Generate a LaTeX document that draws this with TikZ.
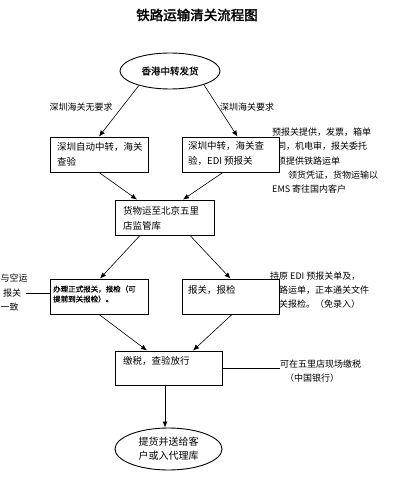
\documentclass[tikz,border=0pt]{standalone}
\usepackage{fontspec}
\setmainfont{Noto Sans CJK SC}
\newfontfamily\titlefont[FakeBold=2]{Noto Sans CJK SC}
\newfontfamily\boldcjk[FakeBold=0.8]{Noto Sans CJK SC}
\usetikzlibrary{arrows.meta,shapes.geometric}
\tikzset{
  box/.style={draw, fill=white, line width=0.9pt, inner sep=0pt},
  oval/.style={draw, fill=white, ellipse, line width=0.9pt, inner sep=0pt},
  txt/.style={inner sep=0pt, align=left, font=\fontsize{9.5}{15}\selectfont},
  note/.style={inner sep=0pt, align=left, font=\fontsize{9}{14.2}\selectfont},
  arr/.style={line width=0.6pt, -{Latex[length=6pt,width=5pt]}},
  ln/.style={line width=0.6pt}
}
\begin{document}
\begin{tikzpicture}[x=1pt,y=-1pt]
\fill[white] (0,0) rectangle (416,500);
\useasboundingbox (0,0) rectangle (416,500);

% title
\node[inner sep=0pt, font=\titlefont\fontsize{13.5}{13.5}\selectfont] (title) at (197,15) {铁路运输清关流程图};

% side notes (drawn first so boxes cover them)
\node[note, anchor=north west] (n1) at (268,128) {\hspace*{4pt}预报关提供，发票，箱单\\合同，机电审，报关委托\\书须提供铁路运单\\\hspace*{20pt}领货凭证，货物运输以\\\hspace*{4pt}EMS 寄往国内客户};
\node[note, anchor=north west] (n2) at (270,271.5) {持原 EDI 预报关单及，\\铁路运单，正本通关文件\\报关报检。（免录入）};
\node[note, anchor=west] (l1) at (0.5,278) {与空运};
\node[note, anchor=west] (l2) at (3,293) {报关};
\node[note, anchor=west] (l3) at (0.5,307) {一致};
\node[note, anchor=west] (t6) at (280,364) {可在五里店现场缴税};
\node[note, anchor=west] (t7) at (285,378) {（中国银行）};

% labels
\node[note] (lab1) at (81,107) {深圳海关无要求};
\node[note] (lab2) at (247,107) {深圳海关要求};

% shapes
\node[oval, minimum width=100pt, minimum height=36pt, font=\boldcjk\fontsize{9.5}{12}\selectfont] (e1) at (170,71) {香港中转发货};
\node[box, minimum width=98pt, minimum height=35pt] (b1) at (99,154.5) {};
\node[box, minimum width=97pt, minimum height=35pt] (b2) at (230.5,154.5) {};
\node[box, minimum width=99pt, minimum height=35pt] (b3) at (164.5,217.5) {};
\node[box, minimum width=98pt, minimum height=35pt] (b4) at (99,296.5) {};
\node[box, minimum width=97pt, minimum height=35pt] (b5) at (230.5,296.5) {};
\node[box, minimum width=107pt, minimum height=34pt] (b6) at (168.5,368) {};
\node[oval, minimum width=107pt, minimum height=42pt, align=left, font=\fontsize{10}{14}\selectfont] (e2) at (168.5,449) {提货并送给客\\户或入代理库};

% box texts
\node[txt, anchor=west] (x1) at (57,154) {深圳自动中转，海关\\查验};
\node[txt, anchor=west] (x2) at (188,154) {深圳中转，海关查\\验，EDI 预报关};
\node[txt, anchor=west] (x3) at (123,218.5) {货物运至北京五里\\店监管库};
\node[inner sep=0pt, align=left, anchor=west, font=\boldcjk\fontsize{7.5}{10}\selectfont] (x4) at (53,294) {办理正式报关，报检（可\\提前到关报检）。};
\node[txt, anchor=west] (x5) at (188,290) {报关，报检};
\node[txt, anchor=west] (x6) at (123,361) {缴税，查验放行};

% connectors
\draw[arr] (e1.205) -- (b1.north);
\draw[arr] (e1.338) -- ([xshift=7pt]b2.north);
\draw[arr] (b1.south) -- ([xshift=-27.5pt]b3.north);
\draw[arr] ([xshift=-7.5pt]b2.south) -- ([xshift=18.5pt]b3.north);
\draw[arr] ([xshift=-24.5pt]b3.south) -- ([xshift=1pt]b4.north);
\draw[arr] ([xshift=25.5pt]b3.south) -- (b5.north);
\draw[arr] (b4.south) -- ([xshift=-21.5pt]b6.north);
\draw[arr] ([xshift=1.5pt]b5.south) -- ([xshift=24.5pt]b6.north);
\draw[arr] ([xshift=-3.5pt]b6.south) -- ([xshift=-3.5pt]e2.north);

\coordinate (lc) at (26,293);
\draw[ln] (lc) -- (b4.west |- lc);
\coordinate (rc) at (280,368);
\draw[ln] (b6.east) -- (rc);
\end{tikzpicture}
\end{document}
